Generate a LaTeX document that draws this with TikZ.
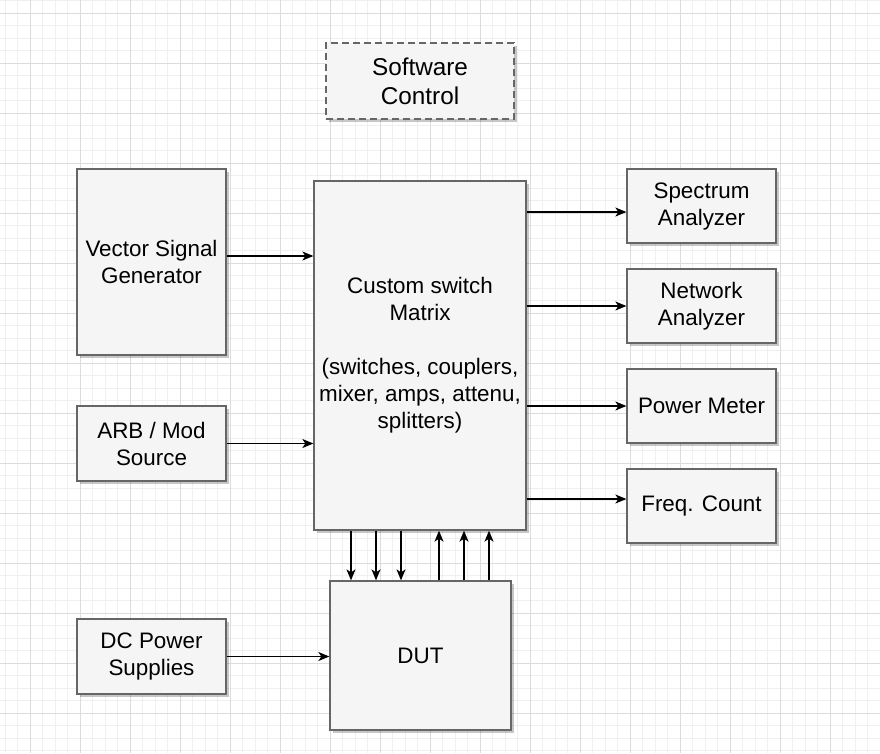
\documentclass[tikz,border=0pt]{standalone}
\usepackage{fontspec}
\setmainfont{Liberation Sans}
\usetikzlibrary{arrows.meta,shadows}
\definecolor{boxfill}{HTML}{F5F5F5}
\definecolor{boxline}{HTML}{666666}
\definecolor{gridmajor}{HTML}{DCDCDC}
\definecolor{gridminor}{HTML}{F0F0F0}
\tikzset{
  blk/.style={draw=boxline, fill=boxfill, line width=1.3pt, inner sep=0pt,
    align=center, font=\fontsize{22.4}{27}\selectfont,
    drop shadow={shadow xshift=3pt, shadow yshift=-3pt, opacity=0.22, fill=black}},
  dashblk/.style={blk, dash pattern=on 7pt off 4pt, line width=2pt, font=\fontsize{24.3}{29}\selectfont},
  arr/.style={line width=1.2pt, draw=black, -{Stealth[length=11pt,width=9pt,inset=3pt]}},
}
\begin{document}
\begin{tikzpicture}[x=1pt,y=-1pt]
\useasboundingbox (0,0) rectangle (880,753);
\fill[white] (0,0) rectangle (880,753);
% grid
\foreach \i in {0,...,70} {
  \draw[gridminor, line width=1pt] ({5+12.5*\i},0) -- ({5+12.5*\i},753);
}
\foreach \i in {0,...,60} {
  \draw[gridminor, line width=1pt] (0,{0.5+12.5*\i}) -- (880,{0.5+12.5*\i});
}
\foreach \i in {0,...,17} {
  \draw[gridmajor, line width=1pt] ({30+50*\i},0) -- ({30+50*\i},753);
}
\foreach \i in {0,...,15} {
  \draw[gridmajor, line width=1pt] (0,{13+50*\i}) -- (880,{13+50*\i});
}
% nodes
\node[dashblk, minimum width=188pt, minimum height=76pt] (sw) at (420,81) {Software\\Control};
\node[blk, minimum width=149pt, minimum height=186pt] (vsg) at (151.5,262) {Vector Signal\\Generator};
\node[blk, minimum width=149pt, minimum height=75pt] (arb) at (151.5,443.5) {ARB / Mod\\Source};
\node[blk, minimum width=149pt, minimum height=75pt] (dc) at (151.5,656.5) {DC Power\\Supplies};
\node[blk, minimum width=212pt, minimum height=349pt] (mx) at (420,355.5) {Custom switch\\Matrix\\[27pt](switches, couplers,\\mixer, amps, attenu,\\splitters)};
\node[blk, minimum width=181pt, minimum height=149pt] (dut) at (420.5,655.5) {DUT};
\node[blk, minimum width=149pt, minimum height=74pt] (sa) at (701.5,206) {Spectrum\\Analyzer};
\node[blk, minimum width=149pt, minimum height=74pt] (na) at (701.5,306) {Network\\Analyzer};
\node[blk, minimum width=149pt, minimum height=74pt] (pm) at (701.5,406) {Power Meter};
\node[blk, minimum width=149pt, minimum height=74pt] (fc) at (701.5,506) {Freq. Count};
% inputs
\draw[arr] ([yshift=6pt]vsg.east) -- ([yshift=6pt]vsg.east -| mx.west);
\draw[arr] (arb.east) -- (arb.east -| mx.west);
\draw[arr] (dc.east) -- (dc.east -| dut.west);
% outputs
\draw[arr] ([yshift=-6pt]sa.west -| mx.east) -- ([yshift=-6pt]sa.west);
\draw[arr] (na.west -| mx.east) -- (na.west);
\draw[arr] (pm.west -| mx.east) -- (pm.west);
\draw[arr] ([yshift=7pt]fc.west -| mx.east) -- ([yshift=7pt]fc.west);
% matrix <-> DUT
\foreach \dx in {-69,-44,-19} {
  \draw[arr] ([xshift=\dx pt]mx.south) -- ([xshift=\dx pt]mx.south |- dut.north);
}
\foreach \dx in {19,44,69} {
  \draw[arr] ([xshift=\dx pt]mx.south |- dut.north) -- ([xshift=\dx pt]mx.south);
}
\end{tikzpicture}
\end{document}
